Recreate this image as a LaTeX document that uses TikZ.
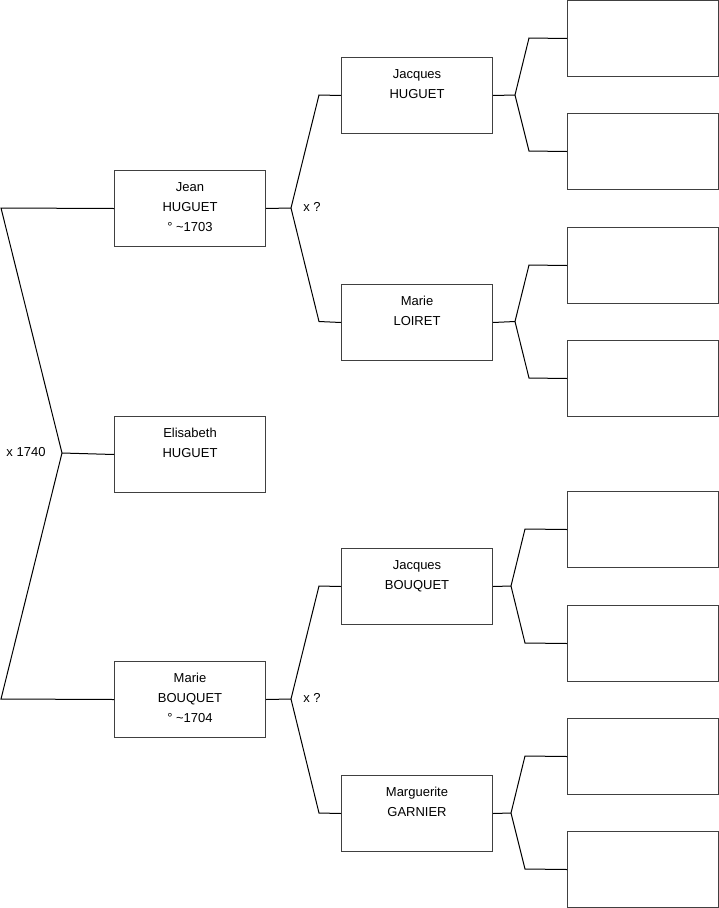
\documentclass[tikz,border=0pt]{standalone}
\usepackage{fontspec}
\setmainfont{Liberation Sans}
\begin{document}
\begin{tikzpicture}[x=1pt,y=-1pt,
  box/.style={draw=black!75, line width=1pt, minimum width=151pt, minimum height=76pt, inner sep=0pt, anchor=north west},
  txt/.style={anchor=north, inner sep=0pt, align=center, font=\fontsize{13}{20}\selectfont, yshift=-12pt},
  link/.style={draw=black, line width=1pt},
  lbl/.style={font=\fontsize{13}{15}\selectfont, inner sep=0pt}]
\useasboundingbox (0,0) rectangle (719,908);

% generation 1
\node[box] (jean) at (114,170) {};
\node[txt] (jeant) at (jean.north) {Jean\\HUGUET\\° \textasciitilde1703};
\node[box] (elis) at (114,416) {};
\node[txt] (elist) at (elis.north) {Elisabeth\\HUGUET};
\node[box] (marieb) at (114,661) {};
\node[txt] (mariebt) at (marieb.north) {Marie\\BOUQUET\\° \textasciitilde1704};

% generation 2
\node[box] (jacqh) at (341,57) {};
\node[txt] (jacqht) at (jacqh.north) {Jacques\\HUGUET};
\node[box] (mariel) at (341,284) {};
\node[txt] (marielt) at (mariel.north) {Marie\\LOIRET};
\node[box] (jacqb) at (341,548) {};
\node[txt] (jacqbt) at (jacqb.north) {Jacques\\BOUQUET};
\node[box] (margg) at (341,775) {};
\node[txt] (marggt) at (margg.north) {Marguerite\\GARNIER};

% generation 3
\node[box] (r1) at (567,0) {};
\node[box] (r2) at (567,113) {};
\node[box] (r3) at (567,227) {};
\node[box] (r4) at (567,340) {};
\node[box] (r5) at (567,491) {};
\node[box] (r6) at (567,605) {};
\node[box] (r7) at (567,718) {};
\node[box] (r8) at (567,831) {};

% left bracket
\coordinate (lt) at (1,208);
\coordinate (lj) at (62,453);
\coordinate (lb) at (1,699);
\draw[link] (jean.west) -- (lt) -- (lj) -- (lb) -- (marieb.west);
\draw[link] (lj) -- (elis.west);
\node[lbl] (m1) at (26,452) {x 1740};

% Jean's parents
\coordinate (jj) at (291,208);
\coordinate (ju) at (319,95);
\coordinate (jd) at (319,321.5);
\draw[link] (jean.east) -- (jj);
\draw[link] (jacqh.west) -- (ju) -- (jj) -- (jd) -- (mariel.west);
\node[lbl] (m2) at (312,207) {x ?};

% Marie's parents
\coordinate (mj) at (291,699);
\coordinate (mu) at (319,586);
\coordinate (md) at (319,813);
\draw[link] (marieb.east) -- (mj);
\draw[link] (jacqb.west) -- (mu) -- (mj) -- (md) -- (margg.west);
\node[lbl] (m3) at (312,698) {x ?};

% Jacques HUGUET's parents
\coordinate (aj) at (515,95);
\coordinate (au) at (529,38);
\coordinate (ad) at (529,151);
\draw[link] (jacqh.east) -- (aj);
\draw[link] (r1.west) -- (au) -- (aj) -- (ad) -- (r2.west);

% Marie LOIRET's parents
\coordinate (bj) at (515,321.5);
\coordinate (bu) at (529,265);
\coordinate (bd) at (529,378);
\draw[link] (mariel.east) -- (bj);
\draw[link] (r3.west) -- (bu) -- (bj) -- (bd) -- (r4.west);

% Jacques BOUQUET's parents
\coordinate (cj) at (511,586);
\coordinate (cu) at (525,529);
\coordinate (cd) at (525,643);
\draw[link] (jacqb.east) -- (cj);
\draw[link] (r5.west) -- (cu) -- (cj) -- (cd) -- (r6.west);

% Marguerite GARNIER's parents
\coordinate (dj) at (511,813);
\coordinate (du) at (525,756);
\coordinate (dd) at (525,869);
\draw[link] (margg.east) -- (dj);
\draw[link] (r7.west) -- (du) -- (dj) -- (dd) -- (r8.west);
\end{tikzpicture}
\end{document}
